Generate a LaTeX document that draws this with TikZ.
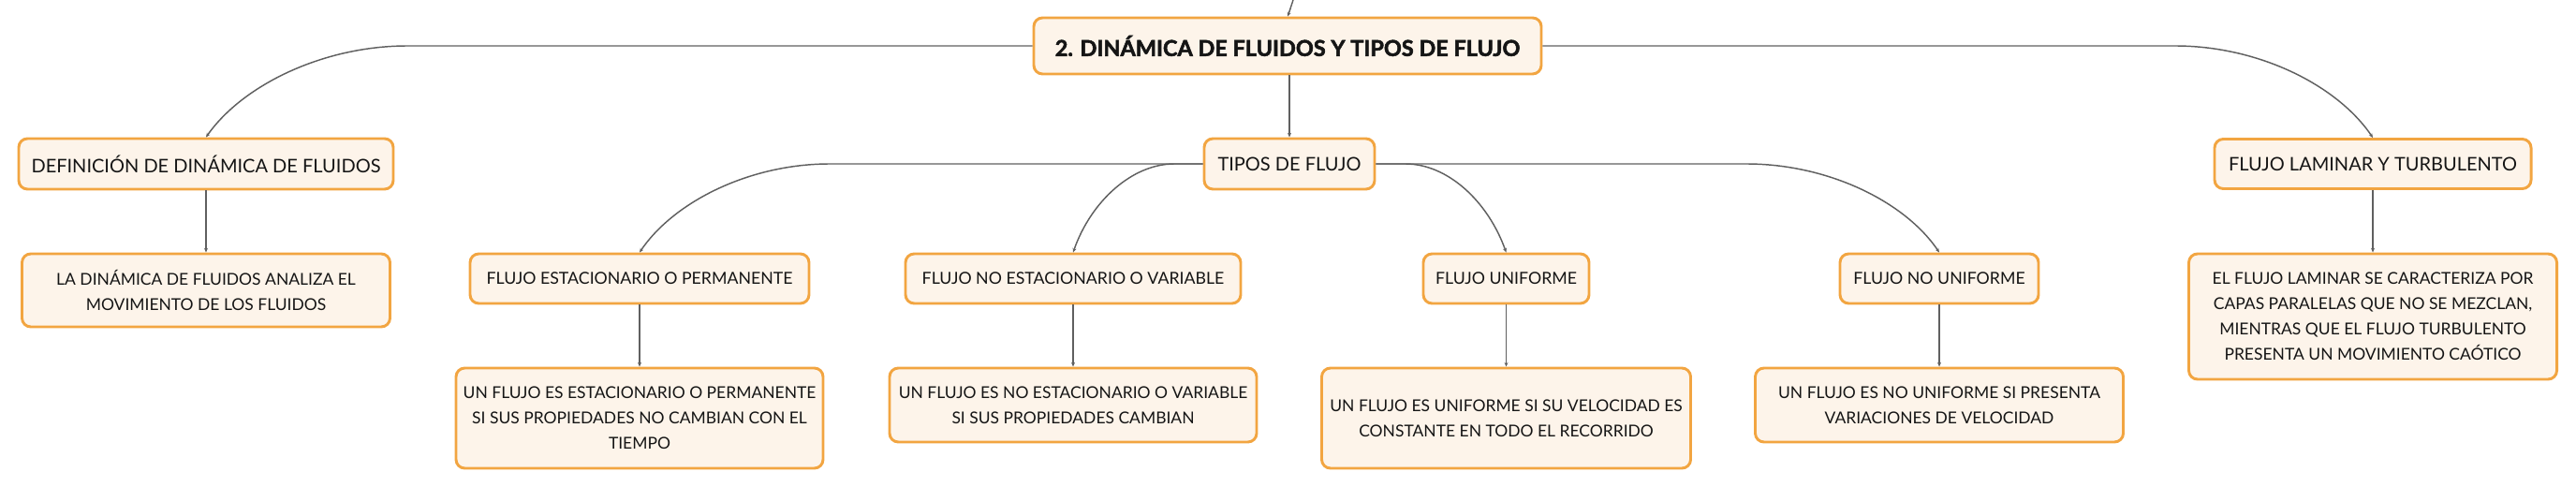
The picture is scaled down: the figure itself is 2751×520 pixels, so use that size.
\documentclass[tikz,border=0pt]{standalone}
\usepackage{fontspec}
\setmainfont{Lato}
\newfontfamily\titlefont{Lato}[BoldFeatures={FakeBold=2.2}]
\usetikzlibrary{arrows.meta}
\definecolor{boxorange}{HTML}{F2A541}
\definecolor{boxfill}{HTML}{FDF4EA}
\definecolor{linegray}{HTML}{606060}
\definecolor{txt}{HTML}{151515}
\begin{document}
\begin{tikzpicture}[x=0.75pt,y=-0.75pt,
  box/.style={draw=boxorange, line width=2.2pt, fill=boxfill, rounded corners=7pt,
    align=center, inner sep=2pt, text=txt, font=\fontsize{13.1}{20.2}\selectfont},
  sz/.style 2 args={minimum width=#1*0.75pt, minimum height=#2*0.75pt},
  head/.style={box, font=\fontsize{15}{20}\selectfont},
  subhead/.style={box, font=\fontsize{13.3}{20}\selectfont},
  titlebox/.style={box, font=\fontsize{17.6}{20}\titlefont\bfseries},
  conn/.style={draw=linegray, line width=1.1pt, -{Stealth[length=3.5pt,width=3pt]}}]
\useasboundingbox (0,0) rectangle (2751,520);

\node[titlebox, sz={542}{60}] (main) at (1375,49) {2. DINÁMICA DE FLUIDOS Y TIPOS DE FLUJO};
\coordinate (topend) at (1381,0);

\node[head, sz={400}{54}] (def) at (220,175) {DEFINICIÓN DE DINÁMICA DE FLUIDOS};
\node[box, sz={393}{78}] (defc) at (220,310) {LA DINÁMICA DE FLUIDOS ANALIZA EL\\MOVIMIENTO DE LOS FLUIDOS};

\node[head, sz={182}{54}] (tipos) at (1377,175) {TIPOS DE FLUJO};

\node[head, sz={338}{53}] (flt) at (2534,175) {FLUJO LAMINAR Y TURBULENTO};
\node[box, sz={393}{134}] (fltc) at (2534,338) {EL FLUJO LAMINAR SE CARACTERIZA POR\\CAPAS PARALELAS QUE NO SE MEZCLAN,\\MIENTRAS QUE EL FLUJO TURBULENTO\\PRESENTA UN MOVIMIENTO CAÓTICO};

\node[subhead, sz={362}{53}] (fes) at (683,297.5) {FLUJO ESTACIONARIO O PERMANENTE};
\node[box, sz={392}{107}] (fesc) at (683,446.5) {UN FLUJO ES ESTACIONARIO O PERMANENTE\\SI SUS PROPIEDADES NO CAMBIAN CON EL\\TIEMPO};

\node[subhead, sz={358}{53}] (fne) at (1146,297.5) {FLUJO NO ESTACIONARIO O VARIABLE};
\node[box, sz={392}{79}] (fnec) at (1146,432.5) {UN FLUJO ES NO ESTACIONARIO O VARIABLE\\SI SUS PROPIEDADES CAMBIAN};

\node[subhead, sz={177}{53}] (fu) at (1608.5,297.5) {FLUJO UNIFORME};
\node[box, sz={394}{107}] (fuc) at (1608.5,446.5) {UN FLUJO ES UNIFORME SI SU VELOCIDAD ES\\CONSTANTE EN TODO EL RECORRIDO};

\node[subhead, sz={212}{53}] (fnu) at (2071,297.5) {FLUJO NO UNIFORME};
\node[box, sz={393}{79}] (fnuc) at (2071,432.5) {UN FLUJO ES NO UNIFORME SI PRESENTA\\VARIACIONES DE VELOCIDAD};

% connectors
\draw[conn] (topend) .. controls (1379,8) .. (main.north);
\draw[conn] (main.west) -- (435,49) .. controls (345,49) and (259,91) .. (def.north);
\draw[conn] (main.east) -- (2323,49) .. controls (2412,49) and (2496,91) .. (flt.north);
\draw[conn] (tipos.north |- main.south) -- (tipos.north);

\draw[conn] (def.south) -- (def.south |- defc.north);
\draw[conn] (flt.south) -- (fltc.north);

\draw[conn] (tipos.west) -- (886,175) .. controls (801,175) and (720,215) .. (fes.north);
\draw[conn] (tipos.west) -- (1254,175) .. controls (1209,175) and (1165,215) .. (fne.north);
\draw[conn] (tipos.east) -- (1501,175) .. controls (1546,175) and (1589,215) .. (fu.north);
\draw[conn] (tipos.east) -- (1865,175) .. controls (1952,175) and (2034,215) .. (fnu.north);

\draw[conn] (fes.south) -- (fesc.north);
\draw[conn] (fne.south) -- (fnec.north);
\draw[conn] (fu.south) -- (fuc.north);
\draw[conn] (fnu.south) -- (fnuc.north);
\end{tikzpicture}
\end{document}
